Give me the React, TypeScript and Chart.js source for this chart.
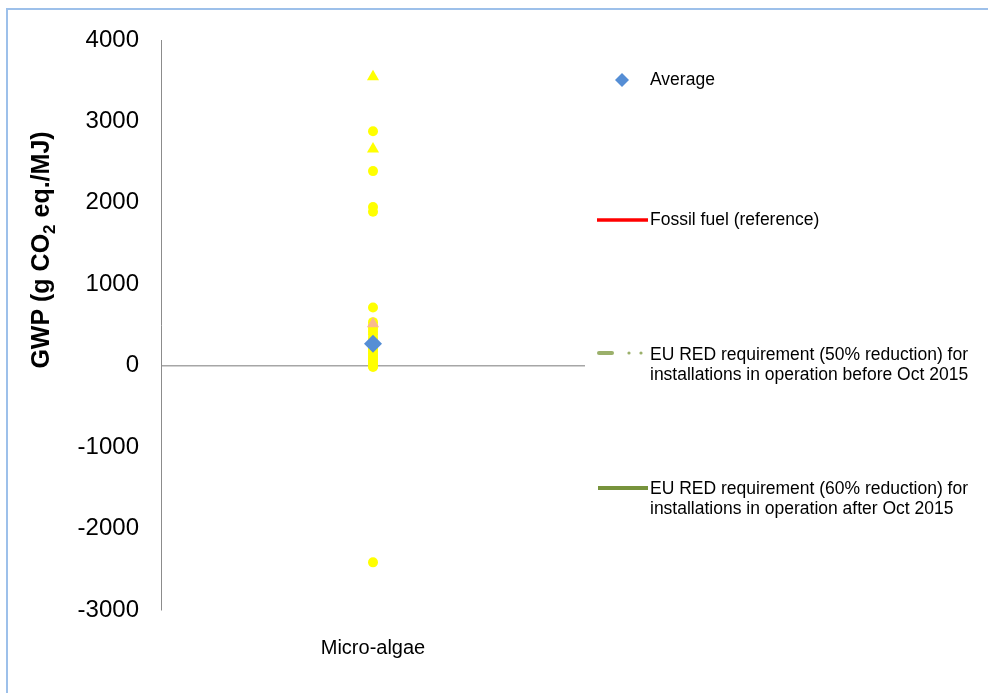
import React, { useEffect, useRef } from "react";
import { Chart, registerables } from "chart.js";

Chart.register(...registerables);

const categories = ["Micro-algae"];
const yTicks = [4000, 3000, 2000, 1000, 0, -1000, -2000, -3000];

// yellow circles (individual studies)
const studyCircles = [2880, 2390, 1950, 1890, 715, 535, 490, 455, 420, 385, 340, 310, 280, 240, 205, 180, 150, 120, 95, 70, 45, 25, 10, -5, -15, -2415];
// yellow triangles
const studyTriangles = [3550, 2660];
// salmon triangle
const salmonTriangle = [515];
// average
const averageValue = [270];

const legendAverage = "Average";
const legendFossil = "Fossil fuel (reference)";
const legendRed50 = ["EU RED requirement (50% reduction) for", "installations in operation before Oct 2015"];
const legendRed60 = ["EU RED requirement (60% reduction) for", "installations in operation after Oct 2015"];

const FONT = "'Liberation Sans', Arial, sans-serif";

const toPoints = (vals: number[]) => vals.map((v) => ({ x: categories[0], y: v }));

const titlePlugin = {
  id: "customTitleLegend",
  afterDraw(chart: any) {
    const ctx = chart.ctx as CanvasRenderingContext2D;
    // Y axis title with subscript
    ctx.save();
    ctx.fillStyle = "#000";
    ctx.textBaseline = "alphabetic";
    const big = `bold 25px ${FONT}`;
    const small = `bold 17px ${FONT}`;
    const parts: [string, string, number][] = [
      ["GWP (g CO", big, 0],
      ["2", small, 6],
      [" eq./MJ)", big, 0],
    ];
    let total = 0;
    for (const [t, f] of parts) {
      ctx.font = f;
      total += ctx.measureText(t).width;
    }
    ctx.translate(49, 250);
    ctx.rotate(-Math.PI / 2);
    let x = -total / 2;
    for (const [t, f, dy] of parts) {
      ctx.font = f;
      ctx.fillText(t, x, dy);
      x += ctx.measureText(t).width;
    }
    ctx.restore();

    // Legend
    ctx.save();
    ctx.font = `17.5px ${FONT}`;
    ctx.fillStyle = "#000";
    ctx.textBaseline = "middle";
    const tx = 650;
    // Average
    const avgDs = chart.data.datasets[3];
    ctx.save();
    ctx.fillStyle = avgDs.backgroundColor;
    ctx.beginPath();
    ctx.moveTo(622, 73);
    ctx.lineTo(629, 80);
    ctx.lineTo(622, 87);
    ctx.lineTo(615, 80);
    ctx.closePath();
    ctx.fill();
    ctx.restore();
    ctx.fillText(avgDs.label, tx, 80);

    // Fossil
    const fosDs = chart.data.datasets[4];
    ctx.save();
    ctx.strokeStyle = fosDs.borderColor;
    ctx.lineWidth = 3.5;
    ctx.beginPath();
    ctx.moveTo(597, 220);
    ctx.lineTo(648, 220);
    ctx.stroke();
    ctx.restore();
    ctx.fillText(fosDs.label, tx, 220);

    // RED 50
    const r50 = chart.data.datasets[5];
    ctx.save();
    ctx.strokeStyle = r50.borderColor;
    ctx.fillStyle = r50.borderColor;
    ctx.lineWidth = 4;
    ctx.lineCap = "round";
    ctx.beginPath();
    ctx.moveTo(599, 353);
    ctx.lineTo(612, 353);
    ctx.stroke();
    for (const cx of [629, 641]) {
      ctx.beginPath();
      ctx.arc(cx, 353, 1.6, 0, Math.PI * 2);
      ctx.fill();
    }
    ctx.restore();
    legendRed50.forEach((l, i) => ctx.fillText(l, tx, 355 + i * 20));

    // RED 60
    const r60 = chart.data.datasets[6];
    ctx.save();
    ctx.strokeStyle = r60.borderColor;
    ctx.lineWidth = 4;
    ctx.beginPath();
    ctx.moveTo(598, 488);
    ctx.lineTo(648, 488);
    ctx.stroke();
    ctx.restore();
    legendRed60.forEach((l, i) => ctx.fillText(l, tx, 489 + i * 20));
    ctx.restore();
  },
};

export default function App() {
  const ref = useRef<HTMLCanvasElement | null>(null);
  useEffect(() => {
    if (!ref.current) return;
    const chart = new Chart(ref.current, {
      type: "line",
      data: {
        labels: categories,
        datasets: [
          {
            label: "Studies",
            data: toPoints(studyCircles),
            showLine: false,
            pointStyle: "circle",
            pointRadius: 5,
            pointBorderWidth: 0,
            backgroundColor: "#FFFF00",
            borderColor: "#FFFF00",
            order: 3,
          },
          {
            label: "Studies (triangles)",
            data: toPoints(studyTriangles),
            showLine: false,
            pointStyle: "triangle",
            pointRadius: 7,
            pointBorderWidth: 0,
            backgroundColor: "#FFFF00",
            borderColor: "#FFFF00",
            order: 3,
          },
          {
            label: "Other",
            data: toPoints(salmonTriangle),
            showLine: false,
            pointStyle: "triangle",
            pointRadius: 7,
            pointBorderWidth: 0,
            backgroundColor: "#F9B98F",
            borderColor: "#F9B98F",
            order: 2,
          },
          {
            label: legendAverage,
            data: toPoints(averageValue),
            showLine: false,
            pointStyle: "rectRot",
            pointRadius: 9,
            pointBorderWidth: 0,
            backgroundColor: "#558ED5",
            borderColor: "#558ED5",
            order: 1,
          },
          {
            label: legendFossil,
            data: [],
            borderColor: "#FF0000",
            backgroundColor: "#FF0000",
          },
          {
            label: legendRed50.join(" "),
            data: [],
            borderColor: "#9BB06B",
            backgroundColor: "#9BB06B",
            borderDash: [12, 6, 2, 6],
          },
          {
            label: legendRed60.join(" "),
            data: [],
            borderColor: "#77933C",
            backgroundColor: "#77933C",
          },
        ],
      },
      options: {
        animation: false,
        responsive: false,
        maintainAspectRatio: false,
        layout: { padding: { left: 0, right: 403, top: 40, bottom: 0 } },
        plugins: {
          legend: { display: false },
          tooltip: { enabled: false },
          title: { display: false },
        },
        scales: {
          x: {
            type: "category",
            offset: true,
            grid: { display: false },
            border: { display: false },
            ticks: {
              color: "#000",
              font: { family: FONT, size: 20 },
              padding: 18,
            },
            afterFit: (s: any) => {
              s.height = 83;
            },
          },
          y: {
            min: -3000,
            max: 4000,
            afterBuildTicks: (s: any) => {
              s.ticks = yTicks.map((v) => ({ value: v }));
            },
            grid: {
              drawTicks: false,
              lineWidth: 1.5,
              color: (c: any) => (c.tick && c.tick.value === 0 ? "#A6A6A6" : "rgba(0,0,0,0)"),
            },
            border: { display: true, color: "#8C8C8C", width: 1 },
            ticks: {
              color: "#000",
              font: { family: FONT, size: 24 },
              padding: 22,
              callback: (v: any) => String(v),
            },
            afterFit: (s: any) => {
              s.width = 161;
            },
          },
        },
      },
      plugins: [titlePlugin],
    });
    return () => chart.destroy();
  }, []);
  return (
    <div style={{ position: "fixed", left: 0, top: 0, width: 988, height: 693, background: "#fff", overflow: "hidden" }}>
      <div
        style={{
          position: "absolute",
          left: 6,
          top: 8,
          width: 1200,
          height: 1000,
          borderLeft: "2px solid #9DC0EA",
          borderTop: "2px solid #9DC0EA",
        }}
      />
      <canvas ref={ref} width={988} height={693} style={{ position: "absolute", left: 0, top: 0 }} />
    </div>
  );
}
